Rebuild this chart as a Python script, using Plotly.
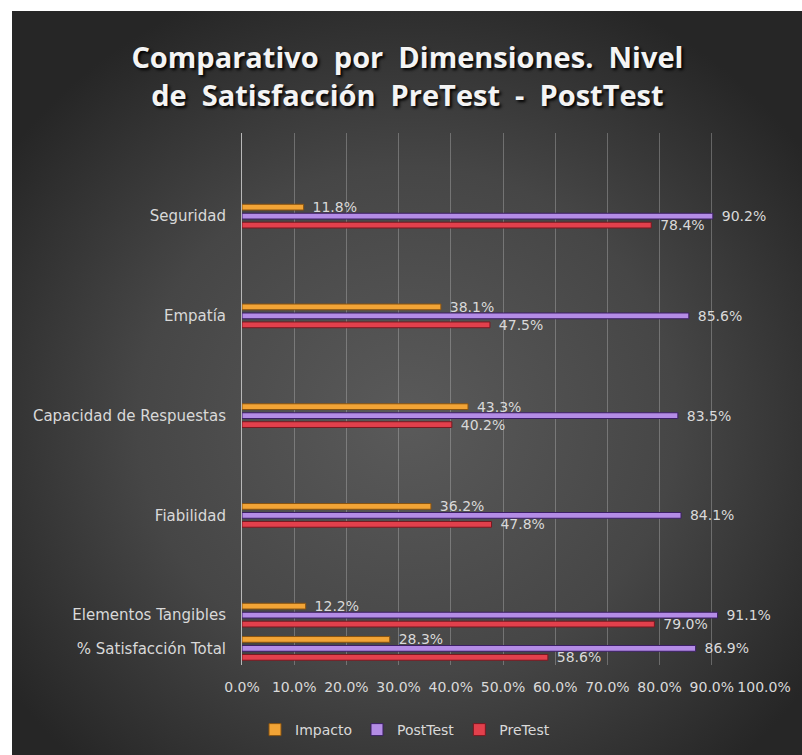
import base64
import plotly.graph_objects as go

# Categories (bottom to top) and the row slot each one occupies on the y axis
categories = ["% Satisfacción Total", "Elementos Tangibles", "Fiabilidad",
              "Capacidad de Respuestas", "Empatía", "Seguridad"]
row_slots = [0, 1, 4, 7, 10, 13]

pretest = [0.586, 0.790, 0.478, 0.402, 0.475, 0.784]
posttest = [0.869, 0.911, 0.841, 0.835, 0.856, 0.902]
impacto = [0.283, 0.122, 0.362, 0.433, 0.381, 0.118]

x_ticks = [i / 10 for i in range(11)]

W, H = 802, 755
PL, PR, PT, PB = 242, 764, 133, 665  # plot area in pixels

label_color = "#d9d9d9"
base_font = "'DejaVu Sans', sans-serif"
PAD = "\u00a0\u00a0"  # small gap between a bar end and its value label

fig = go.Figure()

series = [
    ("PreTest", pretest, "#e2404c", "#7a1820"),
    ("PostTest", posttest, "#b48ce6", "#3c1f66"),
    ("Impacto", impacto, "#f2a436", "#8a5410"),
]
for name, vals, color, edge in series:
    fig.add_trace(go.Bar(
        name=name,
        y=row_slots,
        x=vals,
        orientation="h",
        marker=dict(color=color, line=dict(color=edge, width=1)),
        text=[PAD + f"{v:.1%}" for v in vals],
        textposition="outside",
        constraintext="none",
        textfont=dict(color=label_color, size=14, family=base_font),
        cliponaxis=False,
        hoverinfo="x+name",
    ))

# Radial dark background drawn as an SVG gradient behind the chart
svg = (
    '<svg xmlns="http://www.w3.org/2000/svg" width="790" height="744" '
    'viewBox="0 0 790 744" preserveAspectRatio="none">'
    '<defs><radialGradient id="g" cx="0.5" cy="0.55" r="0.62">'
    '<stop offset="0" stop-color="#5a5a5a"/>'
    '<stop offset="0.55" stop-color="#464646"/>'
    '<stop offset="1" stop-color="#262626"/>'
    '</radialGradient></defs>'
    '<rect width="790" height="744" fill="url(#g)"/></svg>'
)
bg_uri = "data:image/svg+xml;base64," + base64.b64encode(svg.encode()).decode()

pw, ph = PR - PL, PB - PT
bg_x0 = (12 - PL) / pw
bg_x1 = (W - PL) / pw
bg_y1 = (PB - 11) / ph
bg_y0 = (PB - H) / ph

fig.add_layout_image(dict(
    source=bg_uri, xref="paper", yref="paper",
    x=bg_x0, y=bg_y1, sizex=bg_x1 - bg_x0, sizey=bg_y1 - bg_y0,
    xanchor="left", yanchor="top", sizing="stretch", layer="below",
))

fig.update_layout(
    width=W, height=H,
    margin=dict(l=PL, r=W - PR, t=PT, b=H - PB, autoexpand=False),
    paper_bgcolor="white",
    plot_bgcolor="rgba(0,0,0,0)",
    barmode="group",
    bargap=0.19,
    bargroupgap=0.36,
    title=dict(
        text="Comparativo  por  Dimensiones.  Nivel<br>de  Satisfacción  PreTest  -  PostTest",
        x=0.508, xref="container", xanchor="center",
        y=1 - 68 / H, yref="container", yanchor="middle",
        font=dict(family="'Open Sans', sans-serif", size=29, color="#f4f4f4",
                  weight="bold", shadow="2px 2px 3px #000000"),
    ),
    xaxis=dict(
        range=[0, 1],
        tickvals=x_ticks,
        tickformat=".1%",
        showgrid=True,
        gridcolor="rgba(200,200,200,0.35)",
        gridwidth=1,
        zeroline=False,
        showline=False,
        ticks="",
        ticklabelstandoff=12,
        tickfont=dict(color=label_color, size=14, family=base_font),
    ),
    yaxis=dict(
        range=[-0.5, 15.5],
        tickvals=row_slots,
        ticktext=categories,
        showgrid=False,
        zeroline=False,
        showline=True,
        linecolor="#b8b8b8",
        linewidth=1,
        ticks="",
        ticklabelstandoff=12,
        tickfont=dict(color=label_color, size=15, family=base_font),
    ),
    legend=dict(
        orientation="h",
        traceorder="reversed",
        x=(405 - PL) / pw, xanchor="center",
        y=(PB - 730) / ph, yanchor="middle",
        font=dict(color=label_color, size=14, family=base_font),
        bgcolor="rgba(0,0,0,0)",
        itemwidth=30,
    ),
    showlegend=True,
)

fig.write_html("out.html")
